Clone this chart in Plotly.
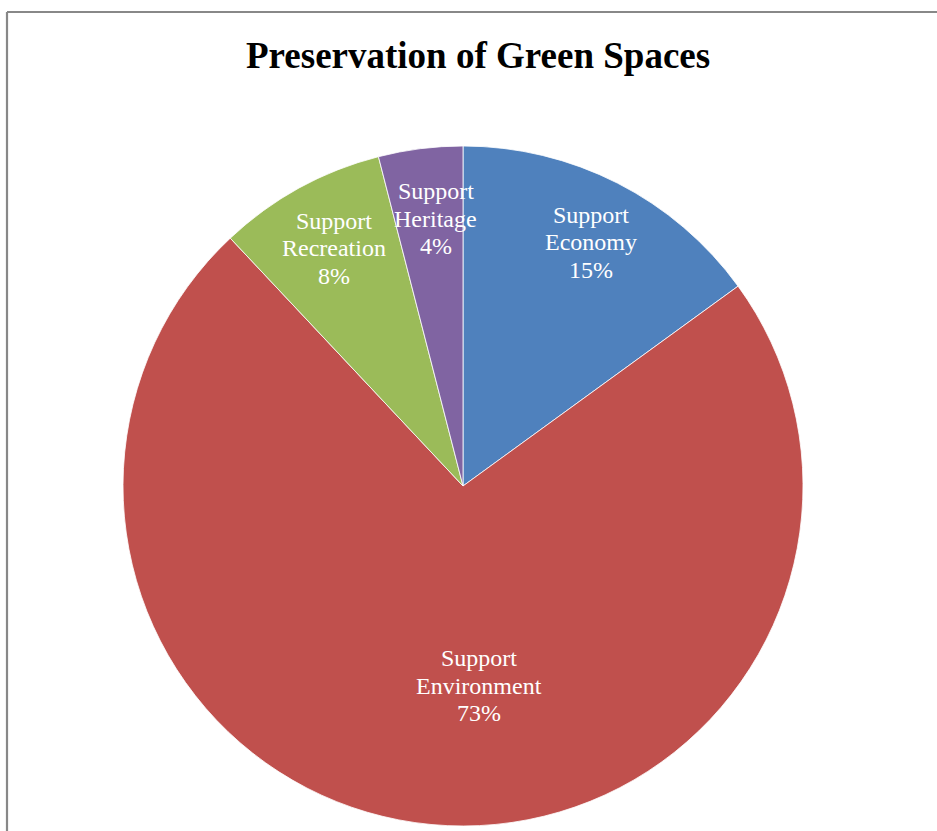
import math
import plotly.graph_objects as go

# Survey results: share of respondents by reason for preserving green spaces
categories = ["Support Economy", "Support Environment", "Support Recreation", "Support Heritage"]
values = [15, 73, 8, 4]

colors = ["#4F81BD", "#C0504D", "#9BBB59", "#8064A2"]

W, H = 937, 831
CX, CY, R = 463, 486, 340  # pie centre and radius in pixels

# label placement: fraction of radius and angular nudge (degrees) per slice
label_radius = [0.81, 0.59, 0.795, 0.79]
label_nudge = [0.7, -10, 0.3, 1.4]
LINE_GAP = 27.5  # pixels between label lines
LABEL_FONT = dict(family="Liberation Serif", size=24, color="#FFFFFF")

fig = go.Figure()
fig.add_trace(go.Pie(
    labels=categories,
    values=values,
    sort=False,
    direction="clockwise",
    rotation=0,
    marker=dict(colors=colors, line=dict(color="#FFFFFF", width=0.8)),
    textinfo="none",
    hoverinfo="label+percent",
    showlegend=False,
    domain=dict(x=[(CX - R) / W, (CX + R) / W], y=[(H - CY - R) / H, (H - CY + R) / H]),
))

total = sum(values)
cum = 0
annotations = []
for i, v in enumerate(values):
    mid = (cum + v / 2) / total * 360 + label_nudge[i]
    cum += v
    a = math.radians(mid)
    px = CX + label_radius[i] * R * math.sin(a)
    py = CY - label_radius[i] * R * math.cos(a)
    pct = round(v / total * 100)
    lines = categories[i].split(" ", 1) + [f"{pct}%"]
    for k, line in enumerate(lines):
        ly = py + (k - 1) * LINE_GAP
        annotations.append(dict(
            x=px / W, y=1 - ly / H, xref="paper", yref="paper",
            text=line, showarrow=False, xanchor="center", yanchor="middle",
            font=LABEL_FONT,
        ))

annotations.append(dict(
    x=478 / W, y=1 - 55 / H, xref="paper", yref="paper",
    text="<b>Preservation of Green Spaces</b>", showarrow=False,
    xanchor="center", yanchor="middle",
    font=dict(family="Liberation Serif", size=37, color="#000000"),
))

# chart frame (left and top edges)
frame = dict(color="#888888", width=2.2)
shapes = [
    dict(type="line", xref="paper", yref="paper", x0=7 / W, x1=1.0, y0=1 - 12 / H, y1=1 - 12 / H, line=frame),
    dict(type="line", xref="paper", yref="paper", x0=7 / W, x1=7 / W, y0=0, y1=1 - 12 / H, line=frame),
]

fig.update_layout(
    width=W, height=H,
    margin=dict(l=0, r=0, t=0, b=0),
    paper_bgcolor="#FFFFFF", plot_bgcolor="#FFFFFF",
    annotations=annotations,
    shapes=shapes,
)

fig.write_html("out.html")
